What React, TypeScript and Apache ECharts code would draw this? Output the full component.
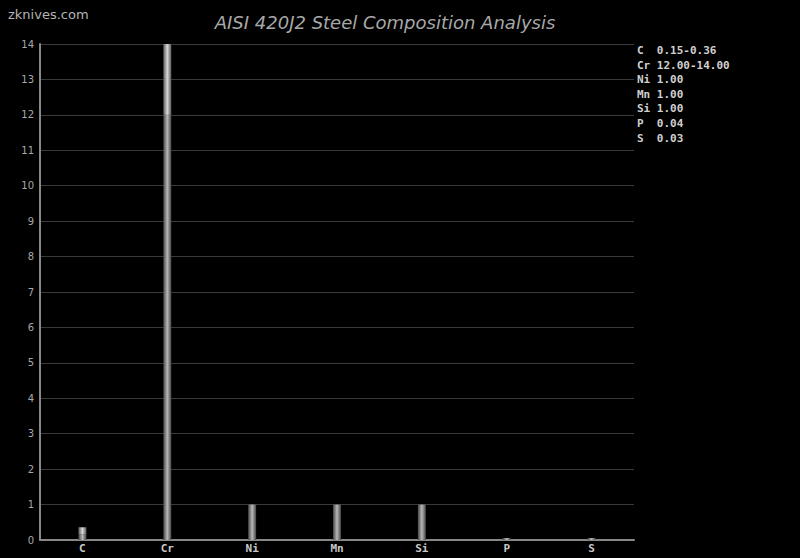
import React, { useEffect, useRef } from "react";
import * as echarts from "echarts";

const categories = ["C", "Cr", "Ni", "Mn", "Si", "P", "S"];
const minValues = [0.15, 12, 1, 1, 1, 0.04, 0.03];
const rangeValues = [0.21, 2, 0, 0, 0, 0, 0];
const legendLines = [
  "C  0.15-0.36",
  "Cr 12.00-14.00",
  "Ni 1.00",
  "Mn 1.00",
  "Si 1.00",
  "P  0.04",
  "S  0.03",
];
const yTicks = { min: 0, max: 14, interval: 1 };

export default function App() {
  const ref = useRef<HTMLDivElement>(null);
  useEffect(() => {
    document.body.style.margin = "0";
    document.body.style.background = "#000";
    const chart = echarts.init(ref.current!, null, { renderer: "svg" });
    const baseGrad = new echarts.graphic.LinearGradient(0, 0, 1, 0, [
      { offset: 0, color: "#444" },
      { offset: 0.5, color: "#b8b8b8" },
      { offset: 1, color: "#444" },
    ]);
    const topGrad = new echarts.graphic.LinearGradient(0, 0, 1, 0, [
      { offset: 0, color: "#585858" },
      { offset: 0.5, color: "#d8d8d8" },
      { offset: 1, color: "#585858" },
    ]);
    chart.setOption({
      animation: false,
      backgroundColor: "#000",
      title: {
        text: "AISI 420J2 Steel Composition Analysis",
        left: 380,
        textAlign: "center",
        top: 8,
        textStyle: {
          color: "#a8a8a8",
          fontSize: 18,
          fontStyle: "italic",
          fontWeight: "normal",
          fontFamily: "DejaVu Sans",
        },
      },
      grid: { left: 40, right: 166, top: 44, bottom: 18 },
      xAxis: {
        type: "category",
        data: categories,
        axisLine: { lineStyle: { color: "#888", width: 2 } },
        axisTick: { show: false },
        axisLabel: {
          color: "#c8c8c8",
          fontSize: 11,
          fontFamily: "DejaVu Sans Mono",
          fontWeight: "bold",
          margin: 3,
        },
      },
      yAxis: {
        type: "value",
        min: yTicks.min,
        max: yTicks.max,
        interval: yTicks.interval,
        axisLine: { show: true, lineStyle: { color: "#888", width: 2 } },
        axisTick: { show: false },
        axisLabel: {
          color: "#a8a8a8",
          fontSize: 10,
          fontFamily: "DejaVu Sans",
          margin: 6,
        },
        splitLine: { lineStyle: { color: "#3a3a3a", width: 1 } },
      },
      series: [
        {
          type: "bar",
          stack: "a",
          data: minValues,
          barWidth: 8,
          barMinHeight: 2,
          itemStyle: { color: baseGrad },
        },
        {
          type: "bar",
          stack: "a",
          data: rangeValues,
          barWidth: 8,
          itemStyle: { color: topGrad },
        },
      ],
      graphic: [
        {
          type: "text",
          left: 8,
          top: 8,
          style: {
            text: "zknives.com",
            fill: "#b4b4b4",
            font: "13px 'DejaVu Sans'",
          },
        },
        ...legendLines.map((t, i) => ({
          type: "text",
          left: 637,
          top: 45 + i * 14.6,
          style: {
            text: t,
            fill: "#d0d0d0",
            font: "bold 11px 'DejaVu Sans Mono'",
          },
        })),
      ],
    });
    return () => chart.dispose();
  }, []);
  return <div ref={ref} style={{ width: 800, height: 558 }} />;
}
